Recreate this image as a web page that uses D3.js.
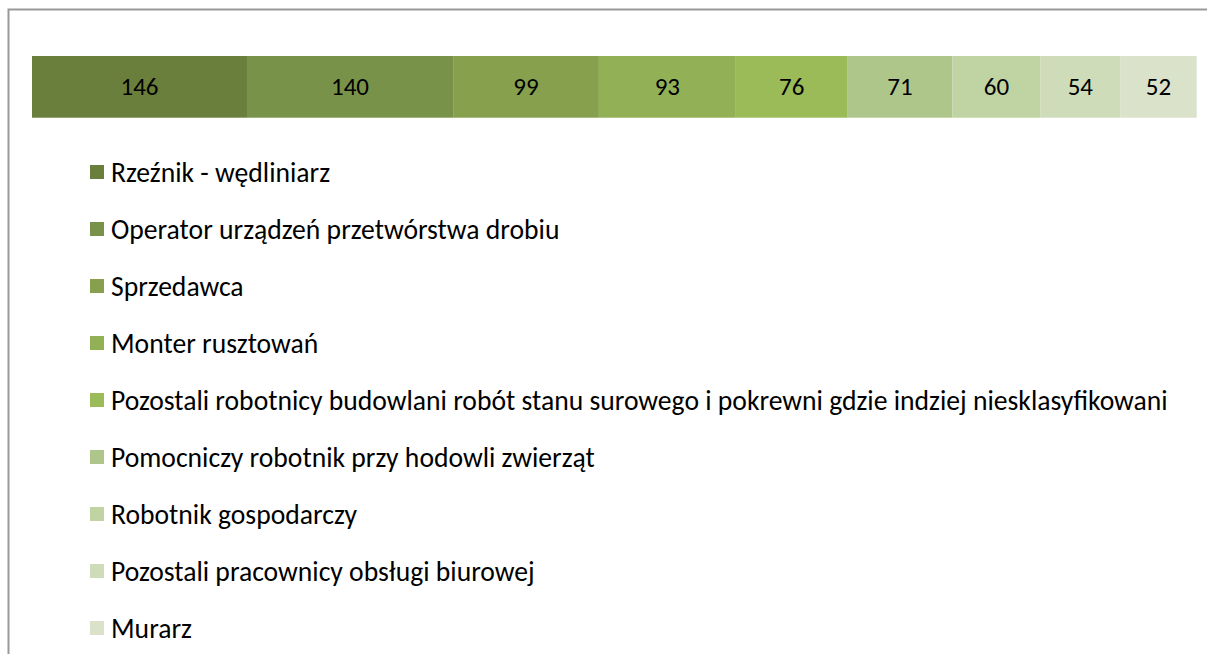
<!DOCTYPE html>
<html><head><meta charset="utf-8">
<script src="https://cdn.jsdelivr.net/npm/d3@7"></script>
<style>
html,body{margin:0;padding:0;background:#fff;}
svg{display:block;}
</style></head>
<body>
<svg id="chart" width="1207" height="654"></svg>
<script>
const categories = [
  "Rzeźnik - wędliniarz",
  "Operator urządzeń przetwórstwa drobiu",
  "Sprzedawca",
  "Monter rusztowań",
  "Pozostali robotnicy budowlani robót stanu surowego i pokrewni gdzie indziej niesklasyfikowani",
  "Pomocniczy robotnik przy hodowli zwierząt",
  "Robotnik gospodarczy",
  "Pozostali pracownicy obsługi biurowej",
  "Murarz"
];
const values = [146, 140, 99, 93, 76, 71, 60, 54, 52];
const colors = ["#6a7f3b", "#79924a", "#86a04d", "#92b056", "#9bbb59", "#aec68a", "#c0d3a3", "#cedcb9", "#dae3ca"];

const svg = d3.select("#chart");
const font = "Carlito, Calibri, Lato, 'Open Sans', sans-serif";

// chart frame
svg.append("rect").attr("x", 8.5).attr("y", 9.5).attr("width", 1300).attr("height", 800)
  .attr("fill", "#fff").attr("stroke", "#999").attr("stroke-width", 2);

const total = d3.sum(values);
const x = d3.scaleLinear().domain([0, total]).range([32, 1196.7]);
const starts = d3.cumsum([0, ...values]).slice(0, values.length);
const data = values.map((v, i) => ({cat: categories[i], v, s: starts[i], c: colors[i]}));

const barY = 56, barH = 61.7;
const g = svg.append("g");
g.selectAll("rect.seg").data(data).join("rect").attr("class", "seg")
  .attr("x", d => x(d.s)).attr("y", barY)
  .attr("width", d => x(d.s + d.v) - x(d.s)).attr("height", barH)
  .attr("fill", d => d.c);
const labels = g.selectAll("text.lbl").data(data).join("text").attr("class", "lbl")
  .attr("x", d => x(d.s + d.v / 2)).attr("y", barY + barH / 2)
  .attr("text-anchor", "middle").attr("dominant-baseline", "central")
  .attr("font-family", font).attr("font-size", 20).attr("fill", "#000")
  .text(d => d.v);
// size labels so that "146" is about 38px wide, as in the reference
const lw = labels.nodes()[0].getComputedTextLength();
labels.attr("font-size", 20 * 38 / lw);

// legend
const ly = d3.scalePoint().domain(categories).range([172, 628]);
const lg = svg.append("g");
const items = lg.selectAll("g").data(data).join("g")
  .attr("transform", d => `translate(0,${ly(d.cat)})`);
items.append("rect").attr("x", 90).attr("y", -7).attr("width", 14).attr("height", 14)
  .attr("fill", d => d.c);
const texts = items.append("text").attr("x", 111).attr("y", 0)
  .attr("dominant-baseline", "central")
  .attr("font-family", font).attr("font-size", 20).attr("fill", "#000")
  .text(d => d.cat);
// fit font size so that the longest label matches reference width
const w = texts.nodes()[4].getComputedTextLength();
texts.attr("font-size", 20 * 1057 / w);
</script>
</body></html>
